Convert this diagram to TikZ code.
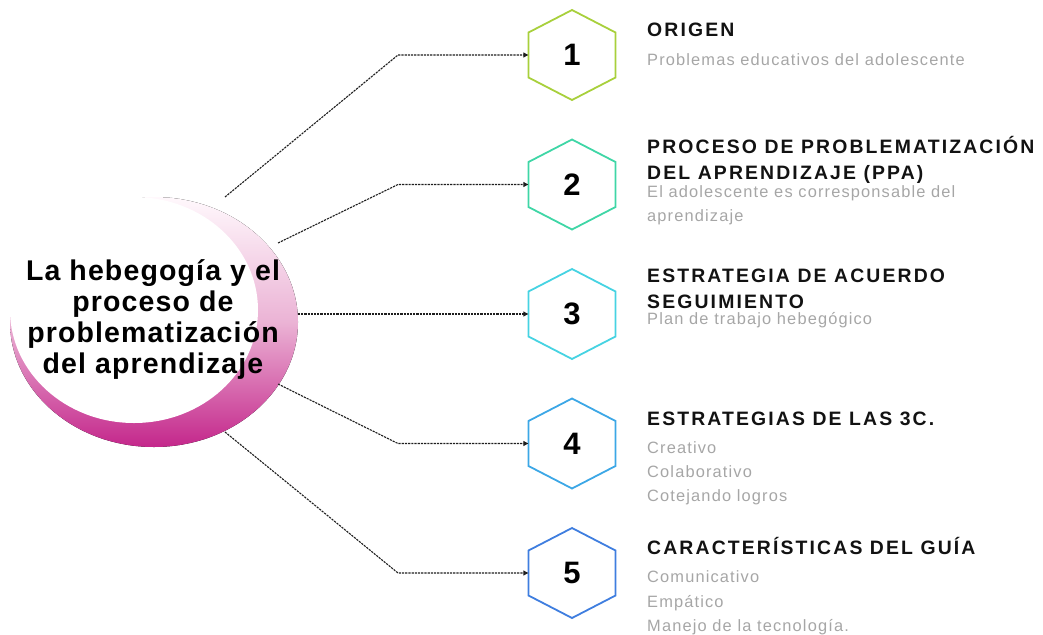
\documentclass[tikz,border=0pt]{standalone}
\usepackage{fontspec}
\setmainfont{Liberation Sans}
\newfontfamily\ttlfont[LetterSpace=11]{Liberation Sans}
\newfontfamily\subfont[LetterSpace=7]{Liberation Sans}
\newfontfamily\cenfont[LetterSpace=4]{Liberation Sans}
\usetikzlibrary{arrows.meta}
\definecolor{hexA}{HTML}{A8D03C}
\definecolor{hexB}{HTML}{3FD6A6}
\definecolor{hexC}{HTML}{46D3E2}
\definecolor{hexD}{HTML}{3CA7E6}
\definecolor{hexE}{HTML}{3F7EDF}
\definecolor{subgray}{HTML}{A6A6A6}
\definecolor{linegray}{HTML}{1E1E1E}
\definecolor{ringtop}{HTML}{FFF8FC}
\definecolor{ringmid}{HTML}{EBB3D5}
\definecolor{ringbot}{HTML}{C4278B}
\tikzset{
  ttl/.style={anchor=base west, inner sep=0pt, text=black!93,
    font=\ttlfont\bfseries\fontsize{19.4}{19.4}\selectfont},
  sub/.style={anchor=base west, inner sep=0pt, text=subgray,
    font=\subfont\fontsize{16.4}{16.4}\selectfont},
  hexnode/.style={shape=rectangle, minimum width=87pt, minimum height=90pt,
    inner sep=0pt, font=\bfseries\fontsize{31}{31}\selectfont, text=black},
  hexline/.style={line width=1.8pt, line join=miter},
  conn/.style={draw=linegray, line width=1.1pt, dash pattern=on 2.2pt off 1pt,
    -{Triangle[length=5pt,width=5pt]}},
}
\begin{document}
\begin{tikzpicture}[x=1pt,y=-1pt]
\useasboundingbox (0,0) rectangle (1043,634);
% central ring
\fill[top color=ringtop, bottom color=ringbot, middle color=ringmid]
  (154,322) ellipse [x radius=144, y radius=125];
\fill[white] (134,310) ellipse [x radius=124, y radius=113];
\node[align=center, inner sep=0pt, text=black,
  font=\cenfont\bfseries\fontsize{28.5}{31}\selectfont] (c) at (153,320)
  {La hebegogía y el\\proceso de\\problematización\\del aprendizaje};
% hexagons
\foreach \i/\y/\col in {1/55/hexA,2/184.5/hexB,3/314/hexC,4/443.5/hexD,5/573/hexE}{
  \draw[hexline,\col] (572,{\y-45}) -- ++(43.5,22.5) -- ++(0,45) -- ++(-43.5,22.5)
    -- ++(-43.5,-22.5) -- ++(0,-45) -- cycle;
  \node[hexnode] (h\i) at (572,\y) {\i};
}
% connector points
\coordinate (s1) at (225,197);
\coordinate (s2) at (278,243);
\coordinate (s3) at (298,314);
\coordinate (s4) at (278,384);
\coordinate (s5) at (225,432);
\coordinate (b1) at (398,55);
\coordinate (b2) at (398,184.5);
\coordinate (b4) at (398,443.5);
\coordinate (b5) at (398,573);
\draw[conn] (s1) -- (b1) -- (h1.west);
\draw[conn] (s2) -- (b2) -- (h2.west);
\draw[conn] (s3) -- (h3.west);
\draw[conn] (s4) -- (b4) -- (h4.west);
\draw[conn] (s5) -- (b5) -- (h5.west);
% texts
\node[ttl] (t1) at (647,37) {ORIGEN};
\node[sub] (d1) at (647,65) {Problemas educativos del adolescente};
\node[ttl] (t2a) at (647,153) {PROCESO DE PROBLEMATIZACIÓN};
\node[ttl] (t2b) at (647,179) {DEL APRENDIZAJE (PPA)};
\node[sub] (d2a) at (647,197) {El adolescente es corresponsable del};
\node[sub] (d2b) at (647,221) {aprendizaje};
\node[ttl] (t3a) at (647,282) {ESTRATEGIA DE ACUERDO};
\node[ttl] (t3b) at (647,308) {SEGUIMIENTO};
\node[sub] (d3) at (647,324) {Plan de trabajo hebegógico};
\node[ttl] (t4) at (647,425) {ESTRATEGIAS DE LAS 3C.};
\node[sub] (d4a) at (647,453) {Creativo};
\node[sub] (d4b) at (647,477) {Colaborativo};
\node[sub] (d4c) at (647,501) {Cotejando logros};
\node[ttl] (t5) at (647,554) {CARACTERÍSTICAS DEL GUÍA};
\node[sub] (d5a) at (647,582) {Comunicativo};
\node[sub] (d5b) at (647,607) {Empático};
\node[sub] (d5c) at (647,631) {Manejo de la tecnología.};
\end{tikzpicture}
\end{document}
